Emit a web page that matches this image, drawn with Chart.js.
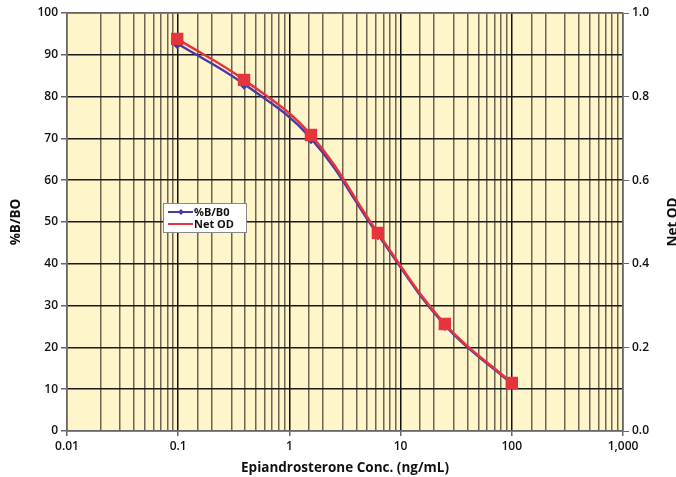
<!DOCTYPE html>
<html>
<head>
<meta charset="utf-8">
<script src="https://cdn.jsdelivr.net/npm/chart.js@4/dist/chart.umd.min.js"></script>
<style>
  html, body { margin: 0; padding: 0; background: #fff; }
  #wrap { width: 676px; height: 477px; position: relative; }
</style>
</head>
<body>
<div id="wrap"><canvas id="chart"></canvas></div>
<script>
// concentrations (ng/mL)
var concentrations = [0.098, 0.391, 1.5625, 6.25, 25, 100];
var percentBB0 = [92.7, 83.0, 70.0, 47.0, 25.3, 11.3]; // %B/B0
var netOD = [0.938, 0.840, 0.708, 0.474, 0.256, 0.115]; // Net OD
var xTickLabels = ['0.01', '0.1', '1', '10', '100', '1,000'];

var FONT = '"Open Sans", "DejaVu Sans", sans-serif';
var BLUE = '#4a3aa6';
var RED = '#e5343c';

function isDecade(v) {
  var l = Math.log10(v);
  return Math.abs(l - Math.round(l)) < 1e-6;
}

function pts(ys) {
  return concentrations.map(function (x, i) { return { x: x, y: ys[i] }; });
}

// background, border, titles and legend
var decor = {
  id: 'decor',
  beforeDraw: function (chart) {
    var a = chart.chartArea, ctx = chart.ctx;
    ctx.save();
    ctx.fillStyle = '#fff5cb';
    ctx.fillRect(a.left, a.top, a.right - a.left, a.bottom - a.top);
    ctx.restore();
  },
  afterDraw: function (chart) {
    var a = chart.chartArea, ctx = chart.ctx;
    ctx.save();
    ctx.strokeStyle = '#808080';
    ctx.lineWidth = 1.5;
    ctx.strokeRect(a.left, a.top, a.right - a.left, a.bottom - a.top);

    ctx.fillStyle = '#111';
    ctx.font = 'bold 13.5px ' + FONT;
    ctx.textAlign = 'center';
    ctx.textBaseline = 'middle';
    ctx.fillText('Epiandrosterone Conc. (ng/mL)', (a.left + a.right) / 2, 468);

    ctx.save();
    ctx.translate(16, (a.top + a.bottom) / 2);
    ctx.rotate(-Math.PI / 2);
    ctx.fillText('%B/BO', 0, 0);
    ctx.restore();

    ctx.save();
    ctx.translate(673, (a.top + a.bottom) / 2);
    ctx.rotate(-Math.PI / 2);
    ctx.fillText('Net OD', 0, 0);
    ctx.restore();

    // legend box
    var lx = 163, ly = 203, lw = 83, lh = 29;
    ctx.fillStyle = '#fff';
    ctx.fillRect(lx, ly, lw, lh);
    ctx.strokeStyle = '#888';
    ctx.lineWidth = 1;
    ctx.strokeRect(lx + 0.5, ly + 0.5, lw, lh);
    var rows = chart.data.datasets;
    ctx.font = 'bold 11px ' + FONT;
    ctx.textAlign = 'left';
    rows.forEach(function (ds, i) {
      var y = ly + 9 + i * 12;
      ctx.strokeStyle = ds.borderColor;
      ctx.lineWidth = 2;
      ctx.beginPath();
      ctx.moveTo(lx + 5, y);
      ctx.lineTo(lx + 30, y);
      ctx.stroke();
      if (ds.pointStyle === 'rectRot') {
        ctx.fillStyle = ds.borderColor;
        ctx.beginPath();
        ctx.moveTo(lx + 18, y - 3);
        ctx.lineTo(lx + 21, y);
        ctx.lineTo(lx + 18, y + 3);
        ctx.lineTo(lx + 15, y);
        ctx.closePath();
        ctx.fill();
      }
      ctx.fillStyle = '#111';
      ctx.fillText(ds.label, lx + 31, y + 0.5);
    });
    ctx.restore();
  }
};

new Chart(document.getElementById('chart'), {
  type: 'line',
  data: {
    datasets: [{
      label: '%B/B0',
      data: pts(percentBB0),
      yAxisID: 'y',
      borderColor: BLUE,
      backgroundColor: BLUE,
      borderWidth: 2.5,
      pointStyle: 'rectRot',
      pointRadius: 4,
      tension: 0.4,
      order: 2
    }, {
      label: 'Net OD',
      data: pts(netOD),
      yAxisID: 'y1',
      borderColor: RED,
      backgroundColor: RED,
      borderWidth: 2.5,
      pointStyle: 'rect',
      pointRadius: 7,
      tension: 0.4,
      order: 1
    }]
  },
  options: {
    responsive: true,
    maintainAspectRatio: false,
    animation: false,
    layout: { padding: { top: 13 } },
    plugins: { legend: { display: false }, tooltip: { enabled: false } },
    scales: {
      x: {
        type: 'logarithmic',
        min: 0.01,
        max: 1000,
        afterFit: function (s) { s.height = 46; },
        border: { display: false },
        grid: {
          color: function (c) {
            return c.tick && isDecade(c.tick.value) ? '#111' : '#6e6450';
          },
          lineWidth: 1.5,
          tickColor: function (c) {
            return c.tick && isDecade(c.tick.value) ? '#666' : 'rgba(0,0,0,0)';
          },
          tickLength: 5
        },
        ticks: {
          autoSkip: false,
          maxRotation: 0,
          padding: 3,
          color: '#111',
          font: { family: FONT, size: 12, weight: '600' },
          callback: function (v) {
            if (!isDecade(v)) return '';
            return xTickLabels[Math.round(Math.log10(v)) + 2];
          }
        }
      },
      y: {
        position: 'left',
        min: 0,
        max: 100,
        afterFit: function (s) { s.width = 67; },
        border: { display: false },
        grid: { color: '#1a1a1a', lineWidth: 1.5, tickColor: '#666', tickLength: 6 },
        ticks: {
          stepSize: 10,
          padding: 3,
          color: '#111',
          font: { family: FONT, size: 12, weight: '600' }
        }
      },
      y1: {
        position: 'right',
        min: 0,
        max: 1,
        afterFit: function (s) { s.width = 53; },
        border: { display: false },
        grid: { drawOnChartArea: false, tickColor: '#666', tickLength: 6 },
        ticks: {
          stepSize: 0.2,
          padding: 3,
          color: '#111',
          font: { family: FONT, size: 12, weight: '600' },
          callback: function (v) { return v.toFixed(1); }
        }
      }
    }
  },
  plugins: [decor]
});
</script>
</body>
</html>
